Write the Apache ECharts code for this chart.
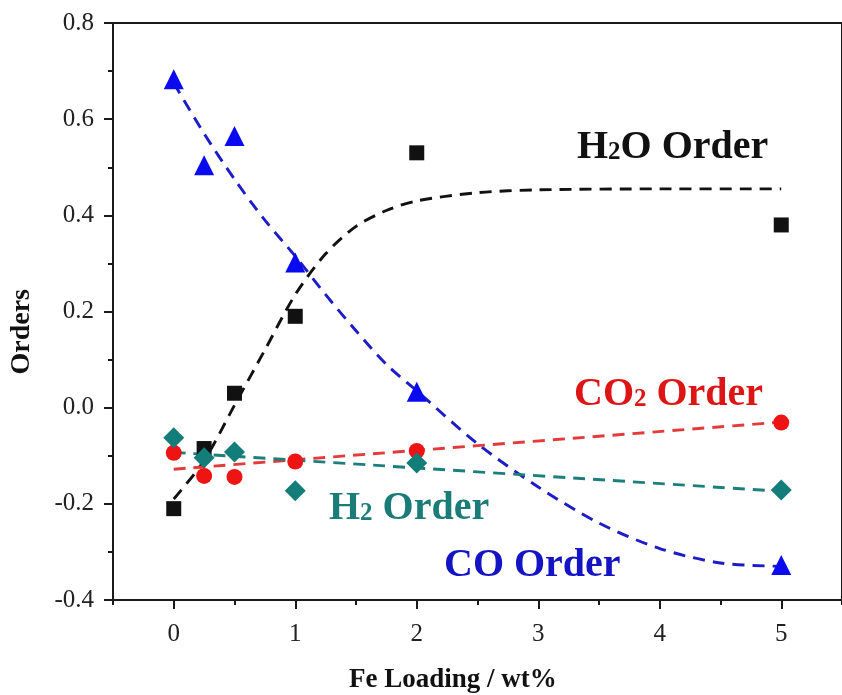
<!DOCTYPE html>
<html>
<head>
<meta charset="utf-8">
<script src="https://cdn.jsdelivr.net/npm/echarts@6/dist/echarts.min.js"></script>
<style>
  html, body { margin: 0; padding: 0; background: #ffffff; }
  #chart { width: 842px; height: 695px; }
</style>
</head>
<body>
<div id="chart"></div>
<script>
// Fe loading (wt%) of the catalysts
const feLoading = [0, 0.25, 0.5, 1, 2, 5];

// Measured reaction orders
const h2oOrder = [-0.21, -0.085, 0.03, 0.19, 0.53, 0.38];
const coOrder  = [0.683, 0.504, 0.565, 0.302, 0.033, -0.327];
const co2Order = [-0.094, -0.142, -0.144, -0.112, -0.09, -0.031];
const h2Order  = [-0.0625, -0.104, -0.092, -0.173, -0.115, -0.171];

// Dashed trend curves
const h2oTrendX = [0, 0.25, 0.5, 0.75, 1, 1.25, 1.5, 1.75, 2, 2.5, 3, 4, 5];
const h2oTrendY = [-0.19, -0.11, 0.005, 0.12, 0.235, 0.32, 0.377, 0.41, 0.43, 0.447, 0.453, 0.455, 0.455];
const coTrendX  = [0, 0.25, 0.5, 0.75, 1, 1.25, 1.5, 1.75, 2, 2.5, 3, 3.5, 4, 4.5, 5];
const coTrendY  = [0.675, 0.57, 0.475, 0.39, 0.315, 0.235, 0.16, 0.09, 0.035, -0.075, -0.165, -0.24, -0.293, -0.323, -0.33];
const co2TrendX = [0, 5];
const co2TrendY = [-0.128, -0.03];
const h2TrendX  = [0, 5];
const h2TrendY  = [-0.093, -0.174];

// Axis ticks
const xMajorTicks = [0, 1, 2, 3, 4, 5];
const xMinorTicks = [-0.5, 0.5, 1.5, 2.5, 3.5, 4.5, 5.5];

const zip = (xs, ys) => xs.map((x, i) => [x, ys[i]]);

const SERIF = '"Liberation Serif", "Times New Roman", serif';
const AXIS = '#1a1a1a';
const BLACK = '#111111';
const BLUE = '#0a0af0';
const BLUE_LINE = '#1c1cc8';
const RED = '#ee1414';
const TEAL = '#137d79';

const chart = echarts.init(document.getElementById('chart'), null, { renderer: 'canvas' });

function trend(data, color) {
  return {
    type: 'line', data: data, smooth: 0.3,
    symbol: 'none', z: 2, silent: true,
    lineStyle: { color: color, width: 2.9, type: [12, 8] }
  };
}
function points(data, symbol, size, color) {
  return {
    type: 'scatter', data: data, symbol: symbol, symbolSize: size, z: 3,
    itemStyle: { color: color, opacity: 1 }
  };
}

// Rich-text label with a small "2"
function seriesLabel(left, top, parts, color) {
  const big = { fontFamily: SERIF, fontWeight: 'bold', fontSize: 40, fill: color, verticalAlign: 'bottom', lineHeight: 42 };
  const small = { fontFamily: SERIF, fontWeight: 'bold', fontSize: 25, fill: color, verticalAlign: 'bottom', lineHeight: 42, padding: [0, 0, 3, 0] };
  return {
    type: 'text', left: left, top: top, z: 10,
    style: { text: parts, rich: { b: big, s: small }, fill: color }
  };
}

chart.setOption({
  backgroundColor: '#ffffff',
  animation: false,
  grid: {
    left: 113, top: 23, right: -8, bottom: 95,
    show: true, borderColor: AXIS, borderWidth: 2, backgroundColor: 'transparent'
  },
  xAxis: [{
    type: 'value', min: -0.5, max: 5.5,
    splitLine: { show: false },
    axisLine: { show: true, onZero: false, lineStyle: { color: AXIS, width: 2 } },
    axisTick: { show: true, inside: false, length: 9, customValues: xMajorTicks, lineStyle: { color: AXIS, width: 2 } },
    axisLabel: { show: true, customValues: xMajorTicks, margin: 22, fontFamily: SERIF, fontSize: 25, color: '#222' }
  }, {
    type: 'value', min: -0.5, max: 5.5, position: 'bottom',
    splitLine: { show: false },
    axisLine: { show: false, onZero: false },
    axisTick: { show: true, inside: false, length: 5, customValues: xMinorTicks, lineStyle: { color: AXIS, width: 2 } },
    axisLabel: { show: false }
  }],
  yAxis: {
    type: 'value', min: -0.4, max: 0.8, interval: 0.2,
    splitLine: { show: false },
    axisLine: { show: true, onZero: false, lineStyle: { color: AXIS, width: 2 } },
    axisTick: { show: true, inside: false, length: 9, lineStyle: { color: AXIS, width: 2 } },
    minorTick: { show: true, splitNumber: 2, length: 5, lineStyle: { color: AXIS, width: 2 } },
    axisLabel: { margin: 19, fontFamily: SERIF, fontSize: 25, color: '#222', formatter: v => v.toFixed(1) }
  },
  series: [
    trend(zip(h2oTrendX, h2oTrendY), BLACK),
    trend(zip(coTrendX, coTrendY), BLUE_LINE),
    trend(zip(co2TrendX, co2TrendY), '#e33a3a'),
    trend(zip(h2TrendX, h2TrendY), '#1d7f7b'),
    points(zip(feLoading, h2oOrder), 'rect', 15, BLACK),
    points(zip(feLoading, coOrder), 'triangle', 20, BLUE),
    points(zip(feLoading, co2Order), 'circle', 16, RED),
    points(zip(feLoading, h2Order), 'diamond', 21, TEAL)
  ],
  graphic: [
    seriesLabel(577, 128, '{b|H}{s|2}{b|O Order}', BLACK),
    seriesLabel(574, 375, '{b|CO}{s|2}{b| Order}', '#dd1515'),
    seriesLabel(329, 489, '{b|H}{s|2}{b| Order}', '#1a7c77'),
    seriesLabel(444, 546, '{b|CO Order}', '#1414c4'),
    {
      type: 'text', left: 8, top: 289, rotation: Math.PI / 2, z: 10,
      style: { text: 'Orders', fontFamily: SERIF, fontWeight: 'bold', fontSize: 28, fill: '#111' }
    },
    {
      type: 'text', left: 349, top: 667, z: 10,
      style: { text: 'Fe Loading / wt%', fontFamily: SERIF, fontWeight: 'bold', fontSize: 27, fill: '#111' }
    }
  ]
});
</script>
</body>
</html>
